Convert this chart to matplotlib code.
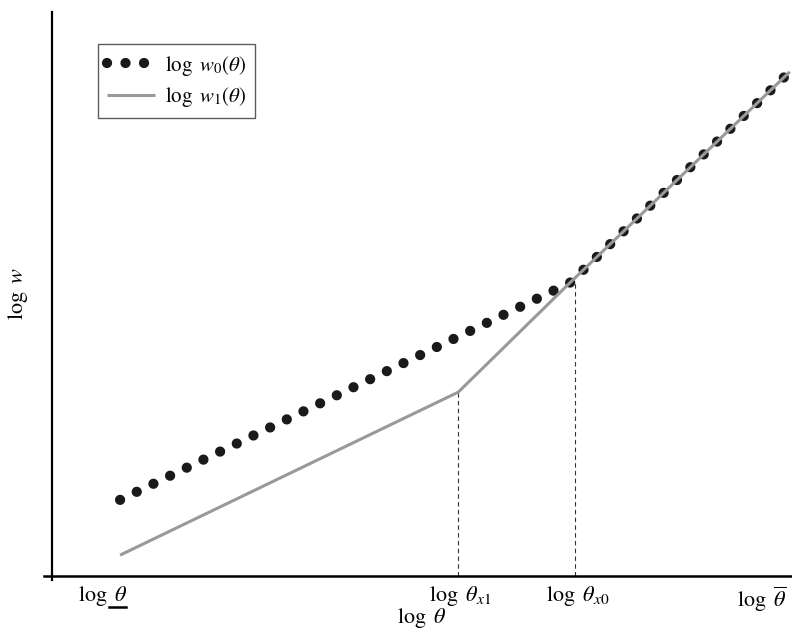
import matplotlib.pyplot as plt
from matplotlib.lines import Line2D

plt.rcParams["font.family"] = ["Liberation Serif", "DejaVu Serif"]
plt.rcParams["mathtext.fontset"] = "stix"

# kink points of the two curves (abstract log units)
w0_x = [0.92, 7.0, 9.97]
w0_y = [1.35, 5.20, 8.94]
w1_x = [0.92, 5.49, 7.0, 9.97]
w1_y = [0.37, 3.26, 5.20, 8.94]

# thresholds with dashed guide lines
guide_x = [5.49, 7.07]
guide_y = [3.26, 5.20]

tick_pos = [0.68, 5.51, 7.11, 9.59]
tick_labels = [r"$\log\ \theta$", r"$\log\ \theta_{x1}$",
               r"$\log\ \theta_{x0}$", r"$\log\ \overline{\theta}$"]

FS = 16

fig = plt.figure(figsize=(7.92, 6.34), dpi=100)
ax = fig.add_axes([52 / 792, 1 - 576 / 634, 1 - 52 / 792, (576 - 12) / 634])
ax.set_xlim(0, 10)
ax.set_ylim(0, 10)

# gray line sits on top of the dots, as in the original
ax.plot(w1_x, w1_y, color="#999999", lw=2.2, solid_capstyle="butt",
        label=r"$\log\ w_1(\theta)$", zorder=4)
ax.plot(w0_x, w0_y, color="#1a1a1a", lw=7.4, linestyle=(0, (0.001, 1.8)),
        dash_capstyle="round", label=r"$\log\ w_0(\theta)$", zorder=3)

for gx, gy in zip(guide_x, guide_y):
    ax.plot([gx, gx], [0, gy], color="#333333", lw=0.8, linestyle=(0, (4, 3)), zorder=1)

for s in ax.spines.values():
    s.set_visible(False)
ax.add_line(Line2D([0, 0], [-0.007, 1], transform=ax.transAxes, color="black",
                   lw=1.6, clip_on=False))
ax.add_line(Line2D([-0.011, 1], [0, 0], transform=ax.transAxes, color="black",
                   lw=1.8, clip_on=False))

ax.set_xticks(tick_pos, tick_labels, fontsize=FS)
ax.set_yticks([])
ax.tick_params(axis="x", length=0, pad=6)
ax.set_xlabel(r"$\log\ \theta$", fontsize=FS, labelpad=-6)
ax.set_ylabel(r"$\log\ w$", fontsize=FS, labelpad=16)

handles, labels = ax.get_legend_handles_labels()
leg = ax.legend(handles[::-1], labels[::-1], loc="upper left",
                bbox_to_anchor=(0.062, 0.943), borderaxespad=0, fontsize=15,
                frameon=True, fancybox=False, edgecolor="#333333",
                handlelength=2.3, handletextpad=0.45, borderpad=0.45,
                labelspacing=0.35)
leg.get_frame().set_linewidth(1.0)

# underline the theta of the lower bound label (mathtext has no \underline)
fig.canvas.draw()
renderer = fig.canvas.get_renderer()
lab = ax.get_xticklabels()[0]
bb = lab.get_window_extent(renderer)
pre = fig.text(0, 0, r"$\log\ $", fontsize=FS)
pre_w = pre.get_window_extent(renderer).width
pre.remove()
x0 = (bb.x0 + pre_w + 2) / fig.bbox.width
x1 = (bb.x1 - 1) / fig.bbox.width
yu = (bb.y0 + 1) / fig.bbox.height
fig.add_artist(Line2D([x0, x1], [yu, yu], transform=fig.transFigure,
                      color="black", lw=1.8))

fig.savefig("out.png", dpi=100)
